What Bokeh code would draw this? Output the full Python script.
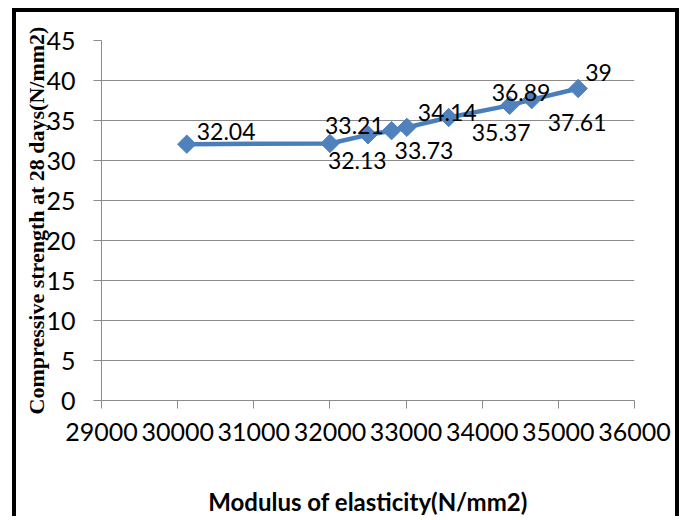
from bokeh.plotting import figure
from bokeh.models import ColumnDataSource, Range1d, SingleIntervalTicker, LabelSet
from bokeh.core.properties import value
from bokeh.embed import file_html
from bokeh.resources import INLINE

# ---- data ----
modulus = [30120, 32000, 32500, 32810, 33010, 33560, 34360, 34650, 35260]
strength = [32.04, 32.13, 33.21, 33.73, 34.14, 35.37, 36.89, 37.61, 39.0]
value_labels = ["32.04", "32.13", "33.21", "33.73", "34.14", "35.37", "36.89", "37.61", "39"]

x_title = "Modulus of elasticity(N/mm2)"
y_title = "Compressive strength at 28 days(N/mm2)"

# ---- label placement (style, screen pixels) ----
label_dx = [10, -2, -43, 3, 11, 23, -18, 16, 7]
label_dy = [13, -17, 9, -20, 15, -15, 13, -23, 16]

src = ColumnDataSource(dict(x=modulus, y=strength, t=value_labels, dx=label_dx, dy=label_dy))

BLUE = "#4A7EBB"
GRID = "#8C8C8C"

p = figure(width=667, height=508, output_backend="svg", toolbar_location=None,
           x_range=Range1d(29000, 36000), y_range=Range1d(0, 45),
           min_border_left=85, min_border_right=49, min_border_top=28, min_border_bottom=120)
p.styles = {"border-style": "solid", "border-color": "black",
            "border-width": "4px 4px 0px 4px", "margin-left": "12px", "margin-top": "8px"}
p.outline_line_color = None
p.background_fill_color = "white"
p.border_fill_color = "white"

p.xaxis.ticker = SingleIntervalTicker(interval=1000)
p.yaxis.ticker = SingleIntervalTicker(interval=5)
p.xgrid.grid_line_color = None
p.ygrid.grid_line_color = GRID
p.ygrid.grid_line_width = 1

for ax in (p.xaxis[0], p.yaxis[0]):
    ax.axis_line_color = GRID
    ax.major_tick_line_color = GRID
    ax.minor_tick_line_color = None
    ax.major_tick_in = 0
    ax.major_tick_out = 8
    ax.major_label_text_font = "Lato"
    ax.major_label_text_font_size = "25px"
    ax.major_label_text_color = "black"

p.xaxis.major_label_standoff = 14
p.yaxis.major_label_standoff = 18

p.xaxis.axis_label = x_title
p.xaxis.axis_label_text_font = "Lato"
p.xaxis.axis_label_text_font_style = "bold"
p.xaxis.axis_label_text_font_size = "24px"
p.xaxis.axis_label_text_color = "black"
p.xaxis.axis_label_standoff = 43

p.yaxis.axis_label = y_title
p.yaxis.axis_label_text_font = "Liberation Serif"
p.yaxis.axis_label_text_font_style = "bold"
p.yaxis.axis_label_text_font_size = "22px"
p.yaxis.axis_label_text_color = "black"
p.yaxis.axis_label_standoff = -6

p.line("x", "y", source=src, line_color=BLUE, line_width=4.5)
p.scatter("x", "y", source=src, marker="square", angle=0.785398, size=13,
          fill_color="#4F81BD", line_color="#4F81BD")

labels = LabelSet(x="x", y="y", text="t", source=src, x_offset="dx", y_offset="dy",
                  text_font=value("Lato"), text_font_size=value("23px"), text_color="black",
                  text_align="left", text_baseline="middle")
p.add_layout(labels)

open("out.html", "w").write(file_html(p, INLINE))
